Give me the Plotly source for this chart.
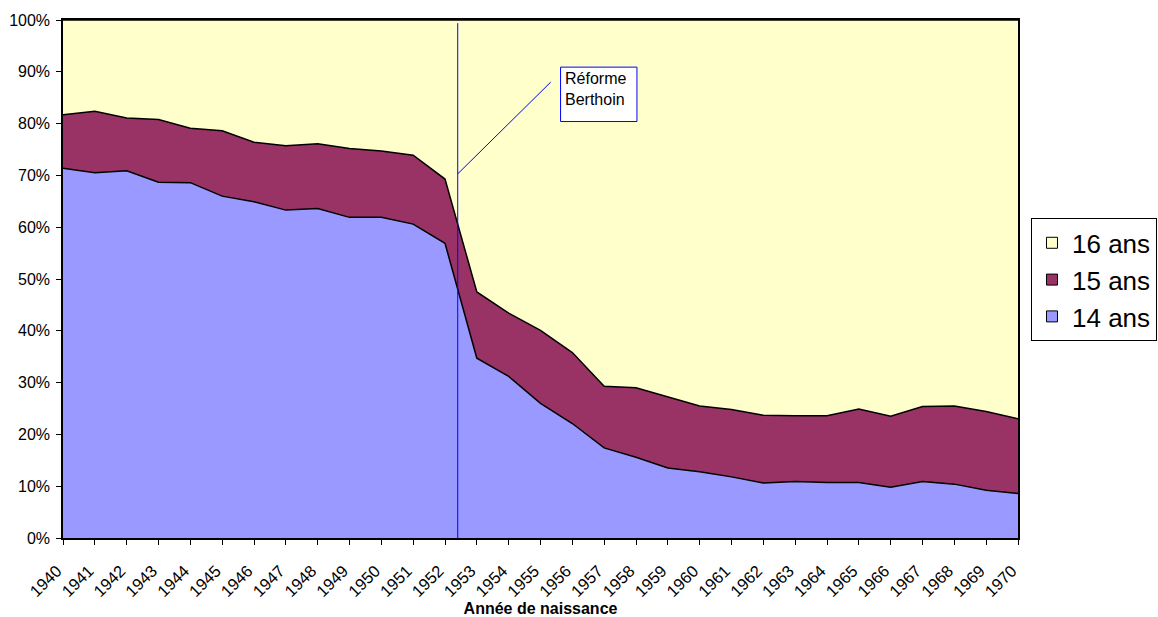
import plotly.graph_objects as go

# Année de naissance
years = list(range(1940, 1971))

# Part (en %) de chaque âge de fin d'études
age14 = [71.4, 70.5, 70.9, 68.7, 68.6, 66.0, 64.9, 63.3, 63.6, 61.9, 61.9,
         60.6, 56.9, 34.7, 31.2, 26.0, 22.1, 17.4, 15.6, 13.5, 12.8, 11.8,
         10.6, 10.9, 10.7, 10.7, 9.8, 10.9, 10.4, 9.2, 8.6]
age15 = [10.3, 11.9, 10.2, 12.1, 10.5, 12.6, 11.5, 12.4, 12.5, 13.3, 12.8,
         13.3, 12.4, 12.8, 12.2, 14.1, 13.7, 11.9, 13.4, 13.7, 12.7, 13.0,
         13.1, 12.7, 12.9, 14.2, 13.7, 14.5, 15.1, 15.2, 14.4]
age16 = [18.3, 17.6, 18.9, 19.2, 20.9, 21.4, 23.6, 24.3, 23.9, 24.8, 25.3,
         26.1, 30.7, 52.5, 56.6, 59.9, 64.2, 70.7, 71.0, 72.8, 74.5, 75.2,
         76.3, 76.4, 76.4, 75.1, 76.5, 74.6, 74.5, 75.6, 77.0]

series = [("14 ans", age14, "#9999FF"),
          ("15 ans", age15, "#993366"),
          ("16 ans", age16, "#FFFFCC")]

reform_year = 1952.4
FONT = "Liberation Sans, Arial, sans-serif"

fig = go.Figure()

# stacked areas
for name, vals, color in series:
    fig.add_trace(go.Scatter(
        x=years, y=vals, name=name,
        mode='lines', stackgroup='one',
        line=dict(color='black', width=1.5),
        fillcolor=color,
        showlegend=False, hoverinfo='x+y+name'
    ))

# legend entries (square swatches), top to bottom
for name, vals, color in reversed(series):
    fig.add_trace(go.Scatter(
        x=[None], y=[None], name=name, mode='markers',
        marker=dict(symbol='square', size=11, color=color,
                    line=dict(color='black', width=1))
    ))

# Réforme Berthoin marker line + callout
fig.add_shape(type='line', xref='x', yref='y',
              x0=reform_year, x1=reform_year, y0=0, y1=99.4,
              line=dict(color='#0000FF', width=1))
fig.add_shape(type='line', xref='x', yref='y',
              x0=reform_year, y0=70.3, x1=1955.32, y1=88.0,
              line=dict(color='#0000FF', width=1))
fig.add_shape(type='rect', xref='x', yref='y',
              x0=1955.63, x1=1958.03, y0=80.4, y1=90.9,
              fillcolor='white', line=dict(color='#0000FF', width=1))
fig.add_annotation(x=1955.63, y=90.9, xref='x', yref='y',
                   xanchor='left', yanchor='top', xshift=2, yshift=-1,
                   text="Réforme<br>Berthoin", align='left', showarrow=False,
                   font=dict(family=FONT, size=16, color='black'))

fig.update_layout(
    width=1158, height=617,
    margin=dict(l=63, r=140, t=20, b=79, autoexpand=False),
    paper_bgcolor='white', plot_bgcolor='white',
    font=dict(family=FONT, color='black'),
    showlegend=True,
    legend=dict(x=1.0136, y=0.617, xanchor='left', yanchor='top',
                traceorder='normal',
                bgcolor='white', bordercolor='black', borderwidth=1,
                font=dict(family=FONT, size=26, color='black'),
                itemwidth=30, tracegroupgap=0)
)

fig.update_xaxes(
    range=[1940, 1970], tickvals=years, ticktext=[str(y) for y in years],
    tickangle=-45, ticks='outside', ticklen=5, tickcolor='black',
    showline=True, linecolor='black', linewidth=1.5, mirror=True,
    showgrid=False, zeroline=False, automargin=False,
    tickfont=dict(family=FONT, size=16.5),
    ticklabelstandoff=10, ticklabelshift=-6,
    title=dict(text="<b>Année de naissance</b>",
               font=dict(family=FONT, size=16), standoff=5)
)
fig.update_yaxes(
    range=[0, 100], dtick=10, ticksuffix='%',
    ticks='outside', ticklen=5, tickcolor='black',
    showline=True, linecolor='black', linewidth=1.5, mirror=True,
    showgrid=False, zeroline=False, automargin=False,
    tickfont=dict(family=FONT, size=16), ticklabelstandoff=3
)

# the page has a default 8px body margin; drop it so the figure sits at 0,0
fig.write_html("out.html", config={'displayModeBar': False},
               post_script="document.body.style.margin='0';")
